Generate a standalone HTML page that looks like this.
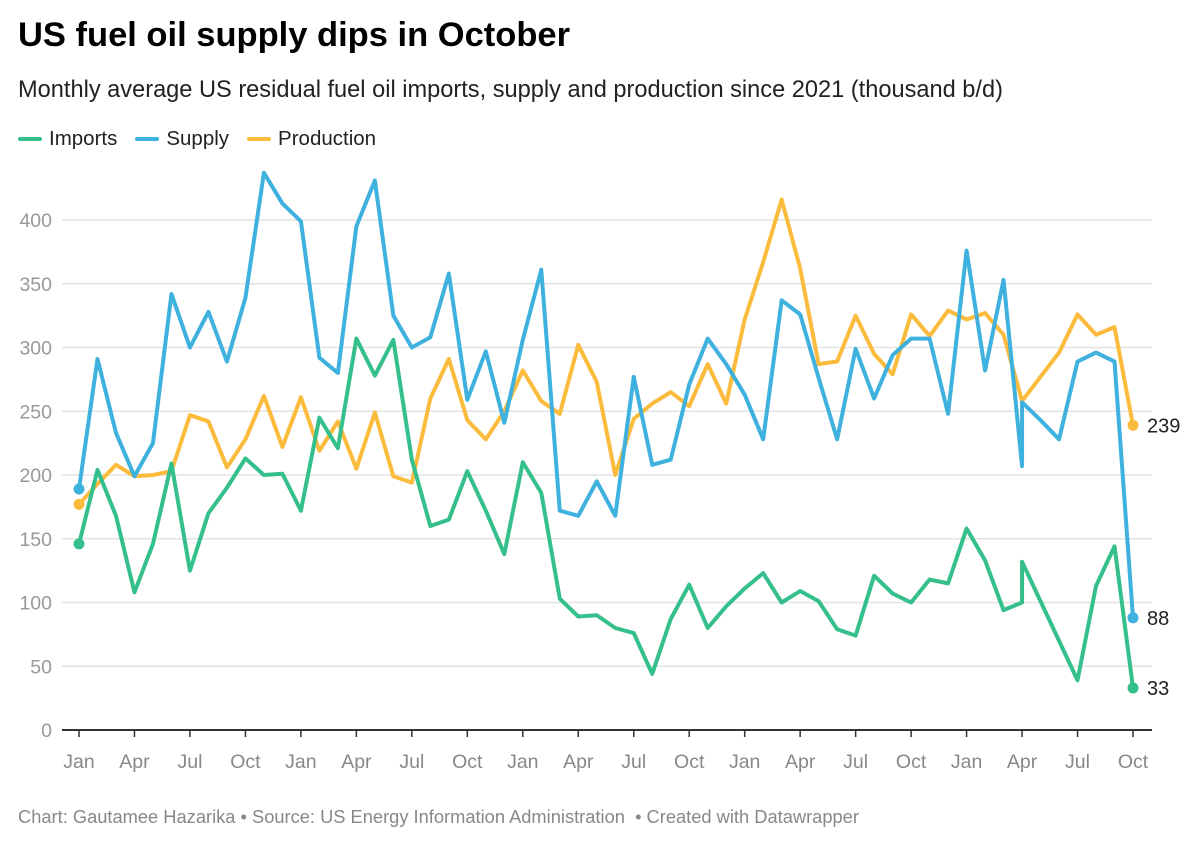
<!DOCTYPE html>
<html><head><meta charset="utf-8"><style>
body{margin:0;background:#fff;font-family:"Liberation Sans",sans-serif;}
#wrap{position:relative;width:1200px;height:846px;}
h1{position:absolute;left:18px;top:16px;margin:0;font-size:34.5px;font-weight:bold;color:#000;}
.sub{position:absolute;left:18px;top:77px;font-size:23.6px;color:#222;white-space:nowrap;}
.legend{position:absolute;left:18px;top:127px;font-size:20.5px;color:#222;display:flex;gap:18px;}
.legend span{display:flex;align-items:center;}
.legend i{display:inline-block;width:24px;height:4px;border-radius:2px;margin-right:7px;}
.foot{position:absolute;left:18px;top:806px;font-size:18.3px;color:#888;white-space:nowrap;}
</style></head><body>
<div id="wrap">
<h1>US fuel oil supply dips in October</h1>
<div class="sub">Monthly average US residual fuel oil imports, supply and production since 2021 (thousand b/d)</div>
<div class="legend">
<span><i style="background:#34bf8b"></i>Imports</span>
<span><i style="background:#3fb1de"></i>Supply</span>
<span><i style="background:#fbbb3d"></i>Production</span>
</div>
<svg id="svg" width="1200" height="846" style="position:absolute;left:0;top:0"></svg>
<div class="foot">Chart: Gautamee Hazarika • Source: US Energy Information Administration &nbsp;• Created with Datawrapper</div>
</div>
<script>
const yTicks=[0,50,100,150,200,250,300,350,400];
const xTickLabels=["Jan","Apr","Jul","Oct","Jan","Apr","Jul","Oct","Jan","Apr","Jul","Oct","Jan","Apr","Jul","Oct","Jan","Apr","Jul","Oct"];
const xTickMonths=[0,3,6,9,12,15,18,21,24,27,30,33,36,39,42,45,48,51,54,57];
const monthsIS=[0,1,2,3,4,5,6,7,8,9,10,11,12,13,14,15,16,17,18,19,20,21,22,23,24,25,26,27,28,29,30,31,32,33,34,35,36,37,38,39,40,41,42,43,44,45,46,47,48,49,50,51,51,52,53,54,55,56,57];
const supply=[189,291,233,199,225,342,300,328,289,339,437,413,399,292,280,395,431,325,300,308,358,259,297,241,306,361,172,168,195,168,277,208,212,271,307,287,263,228,337,326,276,228,299,260,294,307,307,248,376,282,353,207,257,243,228,289,296,289,88];
const imports=[146,204,168,108,146,209,125,170,190,213,200,201,172,245,221,307,278,306,212,160,165,203,172,138,210,186,103,89,90,80,76,44,87,114,80,97,111,123,100,109,101,79,74,121,107,100,118,115,158,133,94,100,132,101,70,39,113,144,33];
const monthsP=[0,1,2,3,4,5,6,7,8,9,10,11,12,13,14,15,16,17,18,19,20,21,22,23,24,25,26,27,28,29,30,31,32,33,34,35,36,37,38,39,40,41,42,43,44,45,46,47,48,49,50,51,52,53,54,55,56,57];
const production=[177,193,208,199,200,203,247,242,206,228,262,222,261,219,242,205,249,199,194,260,291,243,228,250,282,258,248,302,273,200,244,256,265,254,287,256,322,367,416,362,287,289,325,295,279,326,309,329,322,327,310,258,277,296,326,310,316,239];
const NS="http://www.w3.org/2000/svg",svg=document.getElementById('svg');
const x=m=>79+m*(1133-79)/57, y=v=>730-v*(510/400);
function mk(t,a){const e=document.createElementNS(NS,t);for(const k in a)e.setAttribute(k,a[k]);svg.appendChild(e);return e;}
yTicks.forEach(v=>{
 if(v>0){const l=mk('line',{x1:62,x2:1152,y1:y(v),y2:y(v),stroke:'#e3e3e3','stroke-width':1.5});
 
 }
 const t=mk('text',{x:52,y:y(v)+7,'text-anchor':'end','font-size':19.5,fill:'#999','font-family':'Liberation Sans'});t.textContent=v;
 
 
});
const ax=mk('line',{x1:62,x2:1152,y1:730,y2:730,stroke:'#333','stroke-width':2});


xTickMonths.forEach((m,i)=>{
 const tk=mk('line',{x1:x(m),x2:x(m),y1:730,y2:737,stroke:'#333','stroke-width':1.5});
 
 
 const t=mk('text',{x:x(m),y:768,'text-anchor':'middle','font-size':19.5,fill:'#888','font-family':'Liberation Sans'});t.textContent=xTickLabels[i];
 
 
});
function series(ms,vals,color,name){
 const p=mk('polyline',{points:vals.map((v,i)=>x(ms[i])+','+y(v)).join(' '),fill:'none',stroke:color,'stroke-width':4,'stroke-linejoin':'round','stroke-linecap':'round'});
 
 
 [0,vals.length-1].forEach(i=>{const c=mk('circle',{cx:x(ms[i]),cy:y(vals[i]),r:5.5,fill:color});
 
 });
 const last=vals.length-1;
 const t=mk('text',{x:x(ms[last])+14,y:y(vals[last])+7,'font-size':20,fill:'#222','font-family':'Liberation Sans'});t.textContent=vals[last];
 
 
}
series(monthsP,production,'#fbbb3d','production');
series(monthsIS,supply,'#3fb1de','supply');
series(monthsIS,imports,'#34bf8b','imports');
</script>
</body></html>
